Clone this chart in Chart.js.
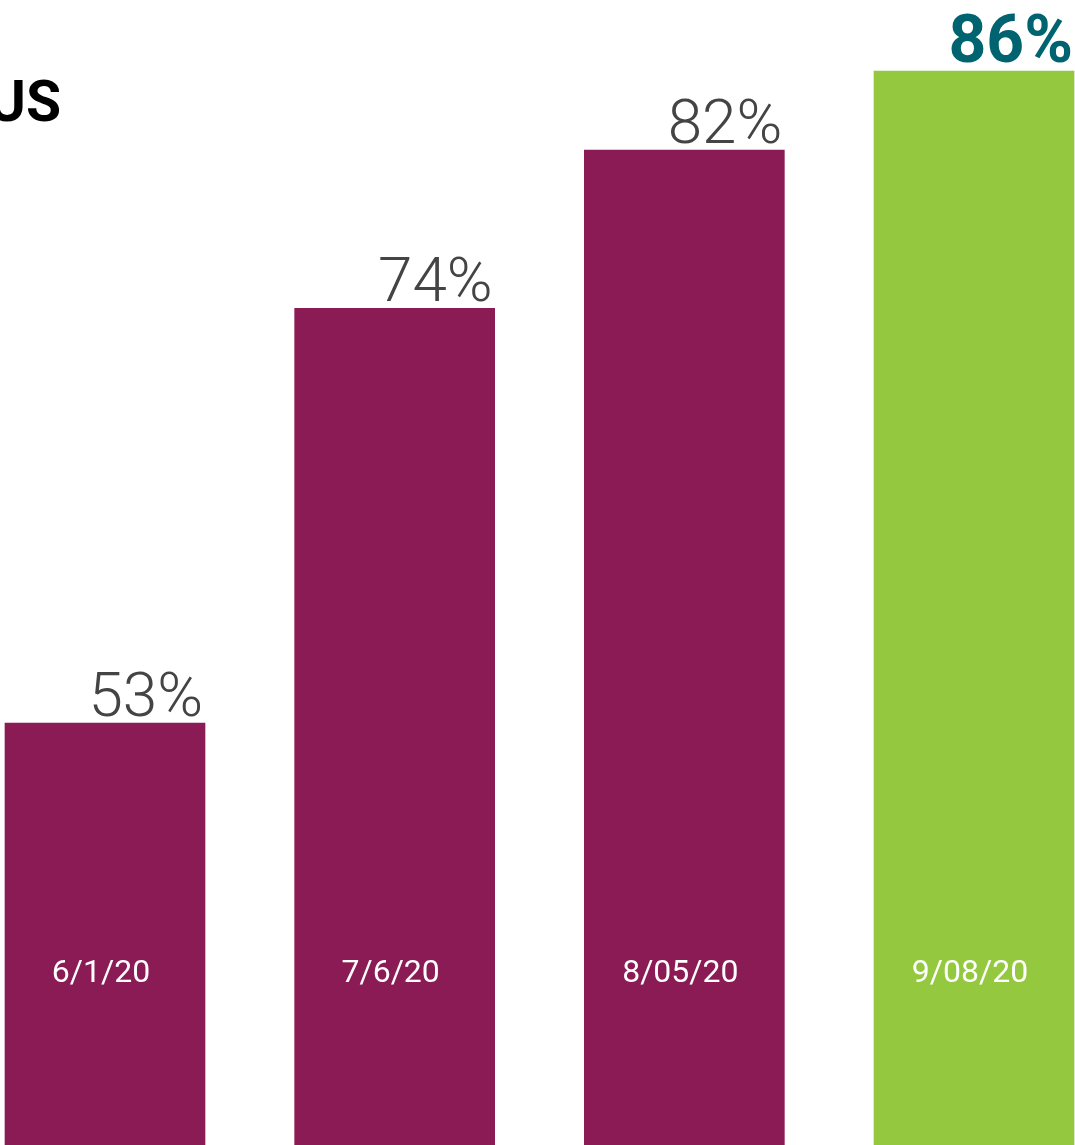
<!DOCTYPE html>
<html>
<head>
<meta charset="utf-8">
<style>
  html, body { margin: 0; padding: 0; background: #fff; overflow: hidden; }
  canvas { display: block; }
</style>
<script src="https://cdn.jsdelivr.net/npm/chart.js@4/dist/chart.umd.min.js"></script>
</head>
<body>
<canvas id="statusChart" width="1075" height="1145"></canvas>
<script>
// Dados do gráfico
const categories = ['6/1/20', '7/6/20', '8/05/20', '9/08/20'];
const values = [53, 74, 82, 86];
const barColors = ['#8a1b55', '#8a1b55', '#8a1b55', '#93c83f'];
const titleText = 'US';

// Rótulos: percentuais acima das barras, datas dentro das barras
const labelsPlugin = {
  id: 'labelsPlugin',
  afterDatasetsDraw(chart) {
    const ctx = chart.ctx;
    const meta = chart.getDatasetMeta(0);
    ctx.save();
    meta.data.forEach((bar, i) => {
      const right = bar.x + bar.width / 2;
      const last = i === values.length - 1;
      ctx.textAlign = 'right';
      ctx.textBaseline = 'alphabetic';
      if (last) {
        ctx.font = 'bold 66px Roboto';
        ctx.fillStyle = '#006470';
        ctx.fillText(values[i] + '%', right - 1, bar.y - 9);
      } else {
        ctx.font = '300 62px Roboto';
        ctx.fillStyle = '#444444';
        ctx.fillText(values[i] + '%', right - 2, bar.y - 7);
      }
      ctx.textAlign = 'center';
      ctx.font = '32px Roboto';
      ctx.fillStyle = '#ffffff';
      ctx.fillText(categories[i], bar.x - 4, 982);
    });
    // título cortado no canto
    ctx.textAlign = 'right';
    ctx.font = 'bold 57px Roboto';
    ctx.fillStyle = '#000000';
    ctx.fillText(titleText, 61, 121);
    ctx.restore();
  }
};

function initStatusChart() {
  const ctx = document.getElementById('statusChart');
  if (!ctx) return;

  new Chart(ctx, {
    type: 'bar',
    data: {
      labels: categories,
      datasets: [{
        data: values,
        backgroundColor: barColors,
        barThickness: 200,
        clip: false
      }]
    },
    options: {
      responsive: false,
      animation: false,
      layout: {
        padding: { left: 105, right: 101, top: 0, bottom: 3 }
      },
      plugins: {
        legend: { display: false },
        tooltip: { enabled: false }
      },
      scales: {
        x: {
          display: false,
          offset: false
        },
        y: {
          display: false,
          min: 31.8,
          max: 89.6
        }
      }
    },
    plugins: [labelsPlugin]
  });
}

document.addEventListener('DOMContentLoaded', () => {
  initStatusChart();
});
</script>
</body>
</html>
